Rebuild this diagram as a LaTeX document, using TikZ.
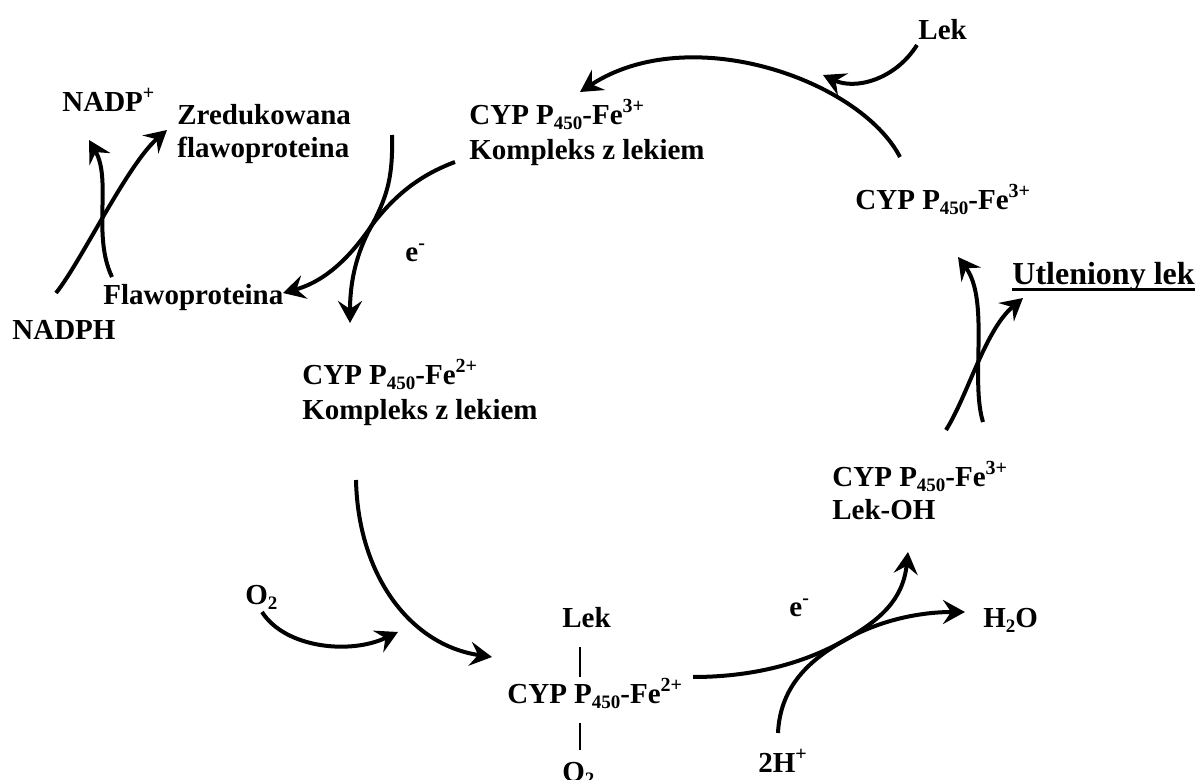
\documentclass[tikz,border=0pt]{standalone}
\usepackage{fontspec}
\setmainfont{Liberation Serif}
\usetikzlibrary{arrows.meta}
\newcommand\supx[1]{\raisebox{6pt}{\fontsize{10}{10}\selectfont #1}}
\newcommand\subx[1]{\raisebox{-2.2pt}{\fontsize{9.5}{9.5}\selectfont #1}}
\newcommand\cypfe[1]{CYP P\subx{450}-Fe\supx{#1}}
\begin{document}
\begin{tikzpicture}[x=0.5pt,y=-0.5pt,
  txt/.style={inner sep=0pt, anchor=base west, font=\fontsize{14.5}{17}\selectfont\bfseries},
  big/.style={txt, font=\fontsize{16}{19}\selectfont\bfseries},
  arr/.style={line width=2pt, -{Stealth[length=11pt,width=12pt,inset=4pt]}},
  bar/.style={line width=1pt}]
\useasboundingbox (0,0) rectangle (1195,780);

% ---- texts ----
\node[txt] (nadpp) at (62,112) {NADP\supx{+}};
\node[txt] (zred1) at (177,125) {Zredukowana};
\node[txt] (zred2) at (177,158) {flawoproteina};
\node[txt] (flaw) at (103,305) {Flawoproteina};
\node[txt] (nadph) at (12,340) {NADPH};
\node[txt] (k3a) at (469,125) {\cypfe{3+}};
\node[txt] (k3b) at (469,160) {Kompleks z lekiem};
\node[txt] (e1) at (405,262) {e\supx{-}};
\node[txt] (k2a) at (302,385) {\cypfe{2+}};
\node[txt] (k2b) at (302,420) {Kompleks z lekiem};
\node[txt] (lek1) at (918,40) {Lek};
\node[txt] (fe3) at (855,210) {\cypfe{3+}};
\node[big] (utl) at (1012,285) {Utleniony lek};
\node[txt] (oh1) at (832,487) {\cypfe{3+}};
\node[txt] (oh2) at (832,520) {Lek-OH};
\node[txt] (o2a) at (245,605) {O\subx{2}};
\node[txt] (lek2) at (562,627) {Lek};
\node[txt] (fe2) at (507,704) {\cypfe{2+}};
\node[txt] (o2b) at (562,781) {O\subx{2}};
\node[txt] (e2) at (789,617) {e\supx{-}};
\node[txt] (h2o) at (983,628) {H\subx{2}O};
\node[txt] (hh) at (758,772) {2H\supx{+}};

% underline
\coordinate (ul1) at (1012,290);
\coordinate (ul2) at (1195,290);
\draw[line width=1.5pt] (ul1) -- (ul2);

% bonds
\coordinate (b1a) at (580,647); \coordinate (b1b) at (580,677);
\coordinate (b2a) at (580,723); \coordinate (b2b) at (580,750);
\draw[bar] (b1a) -- (b1b);
\draw[bar] (b2a) -- (b2b);

% ---- connectors ----
\coordinate (p1s) at (56,293);   \coordinate (p1e) at (167,130);
\coordinate (p2s) at (112,277);  \coordinate (p2e) at (89,140);
\draw[arr] (p1s) .. controls (81,262) and (127,165) .. (p1e);
\draw[arr] (p2s) .. controls (92,235) and (112,180) .. (p2e);

\coordinate (pAs) at (392,135);  \coordinate (pAe) at (350,323);
\coordinate (pBs) at (455,162);  \coordinate (pBe) at (283,293);
\coordinate (pX) at (372,225);
\draw[arr] (pAs) .. controls (393,175) and (388,195) .. (pX)
                 .. controls (355,255) and (350,285) .. (pAe);
\draw[arr] (pBs) .. controls (420,175) and (395,195) .. (pX)
                 .. controls (355,250) and (330,280) .. (pBe);

\coordinate (tAs) at (900,157);  \coordinate (tAe) at (580,92);
\draw[arr] (tAs) .. controls (860,80) and (690,20) .. (tAe);
\coordinate (lks) at (917,45);   \coordinate (lke) at (823,75);
\draw[arr] (lks) .. controls (895,80) and (855,90) .. (lke);

\coordinate (r1s) at (983,422);  \coordinate (r1e) at (958,257);
\draw[arr] (r1s) .. controls (970,380) and (990,300) .. (r1e);
\coordinate (r2s) at (946,430);  \coordinate (r2e) at (1023,298);
\draw[arr] (r2s) .. controls (968,395) and (985,330) .. (r2e);

\coordinate (bgs) at (356,480);  \coordinate (bge) at (492,657);
\draw[arr] (bgs) .. controls (358,575) and (410,645) .. (bge);
\coordinate (oxs) at (262,612);  \coordinate (oxe) at (398,632);
\draw[arr] (oxs) .. controls (285,648) and (350,655) .. (oxe);

\coordinate (fes) at (693,677);  \coordinate (fee) at (908,552);
\coordinate (hhs) at (778,733);  \coordinate (hhe) at (965,612);
\coordinate (pY) at (845,640);
\draw[arr] (fes) .. controls (760,677) and (810,660) .. (pY)
                 .. controls (880,620) and (903,600) .. (fee);
\draw[arr] (hhs) .. controls (780,690) and (805,662) .. (pY)
                 .. controls (880,620) and (920,612) .. (hhe);
\end{tikzpicture}
\end{document}
